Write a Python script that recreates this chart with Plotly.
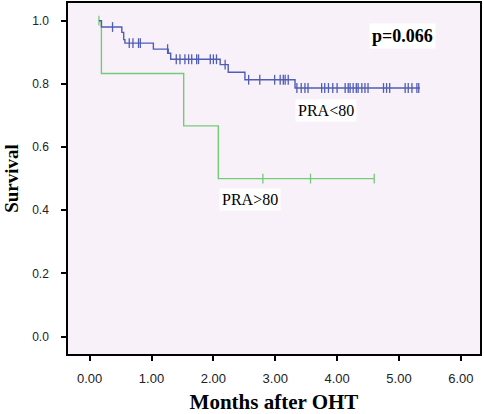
import plotly.graph_objects as go

# ---- data ----
# PRA<80 group: step curve (time in months, survival)
low_times = [0.15, 0.19, 0.52, 0.55, 0.57, 1.03, 1.27, 1.31, 2.11, 2.24, 2.51, 3.32, 5.34]
low_surv  = [1.00, 0.98, 0.963, 0.94, 0.929, 0.91, 0.897, 0.878, 0.861, 0.837, 0.813, 0.787, 0.787]
low_cens_t = [0.37, 0.64, 0.70, 0.79, 0.82, 1.26,
              1.40, 1.46, 1.54, 1.60, 1.65, 1.73, 1.76, 1.95, 2.00, 2.05,
              2.19,
              2.57, 2.75, 2.99, 3.08, 3.13, 3.16, 3.21,
              3.35, 3.42, 3.48, 3.53, 3.75, 3.80, 3.86, 3.93, 4.00, 4.13, 4.18, 4.21,
              4.26, 4.31, 4.34, 4.40, 4.45, 4.50, 4.75, 4.80, 4.85, 5.10, 5.15, 5.21,
              5.29, 5.32]
low_cens_s = [0.98, 0.929, 0.929, 0.929, 0.929, 0.91,
              0.878, 0.878, 0.878, 0.878, 0.878, 0.878, 0.878, 0.878, 0.878, 0.878,
              0.861,
              0.813, 0.813, 0.813, 0.813, 0.813, 0.813, 0.813,
              0.787, 0.787, 0.787, 0.787, 0.787, 0.787, 0.787, 0.787, 0.787, 0.787, 0.787, 0.787,
              0.787, 0.787, 0.787, 0.787, 0.787, 0.787, 0.787, 0.787, 0.787, 0.787, 0.787, 0.787,
              0.787, 0.787]

# PRA>80 group
high_times = [0.15, 0.19, 1.52, 2.08, 4.60]
high_surv  = [1.00, 0.833, 0.667, 0.50, 0.50]
high_cens_t = [0.15, 2.80, 3.57, 4.60]
high_cens_s = [1.00, 0.50, 0.50, 0.50]

x_ticks = [0, 1, 2, 3, 4, 5, 6]
x_tick_labels = ["0.00", "1.00", "2.00", "3.00", "4.00", "5.00", "6.00"]
y_ticks = [0.0, 0.2, 0.4, 0.6, 0.8, 1.0]
y_tick_labels = ["0.0", "0.2", "0.4", "0.6", "0.8", "1.0"]

BLUE = "#4F5DB3"
GREEN = "#74CC78"

fig = go.Figure()
fig.add_trace(go.Scatter(x=high_times, y=high_surv, mode="lines", line_shape="hv",
                         line=dict(color=GREEN, width=1.4), hoverinfo="skip"))
fig.add_trace(go.Scatter(x=high_cens_t, y=high_cens_s, mode="markers",
                         marker=dict(symbol="line-ns-open", size=7, color=GREEN,
                                     line=dict(color=GREEN, width=1.3))))
fig.add_trace(go.Scatter(x=low_times, y=low_surv, mode="lines", line_shape="hv",
                         line=dict(color=BLUE, width=1.4), hoverinfo="skip"))
fig.add_trace(go.Scatter(x=low_cens_t, y=low_cens_s, mode="markers",
                         marker=dict(symbol="line-ns-open", size=7, color=BLUE,
                                     line=dict(color=BLUE, width=1.3))))

serif = "Liberation Serif"
sans = "Liberation Sans"

fig.add_annotation(x=5.05, y=0.950, text="<b>p=0.066</b>", showarrow=False, xref="x", yref="y",
                   font=dict(family=serif, size=18, color="black"), bgcolor="white", borderpad=2)
fig.add_annotation(x=3.82, y=0.715, text="PRA&lt;80", showarrow=False, xref="x", yref="y",
                   font=dict(family=serif, size=16, color="black"), bgcolor="white", borderpad=2)
fig.add_annotation(x=2.60, y=0.433, text="PRA&gt;80", showarrow=False, xref="x", yref="y",
                   font=dict(family=serif, size=16, color="black"), bgcolor="white", borderpad=2)

fig.update_layout(
    width=484, height=414,
    margin=dict(l=68, r=4, t=3, b=60, autoexpand=False),
    paper_bgcolor="white",
    plot_bgcolor="#F9F1F9",
    showlegend=False,
    xaxis=dict(range=[-0.35, 6.31], tickmode="array", tickvals=x_ticks, ticktext=x_tick_labels,
               ticks="outside", ticklen=5, tickwidth=1.5, tickcolor="black",
               showline=True, linecolor="black", linewidth=1.5, mirror=True,
               showgrid=False, zeroline=False, ticklabelstandoff=7, automargin=False,
               tickfont=dict(family=sans, size=13, color="#222"),
               title=dict(text="<b>Months after OHT</b>", font=dict(family=serif, size=21, color="black"),
                          standoff=13)),
    yaxis=dict(range=[-0.055, 1.056], tickmode="array", tickvals=y_ticks, ticktext=y_tick_labels,
               ticks="outside", ticklen=5, tickwidth=1.5, tickcolor="black",
               showline=True, linecolor="black", linewidth=1.5, mirror=True,
               showgrid=False, zeroline=False, ticklabelstandoff=10, automargin=False,
               tickfont=dict(family=sans, size=12, color="#222"),
               title=dict(text="<b>Survival</b>", font=dict(family=serif, size=19, color="black"),
                          standoff=9)),
)

fig.write_html("out.html", config={"displayModeBar": False},
               post_script="document.body.style.margin='0px';")
